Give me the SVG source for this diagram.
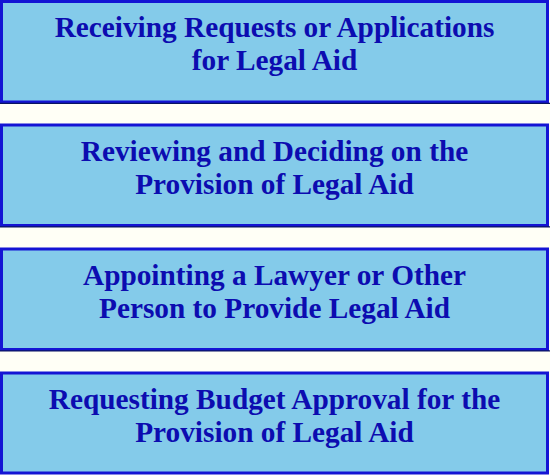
<svg xmlns="http://www.w3.org/2000/svg" width="550" height="475" viewBox="0 0 550 475">
<style>
.box{fill:#84CBEA;stroke:#1414D4;stroke-width:3}
.shadow{fill:none;stroke:#0A1560;stroke-width:1.2}
.t{font-family:"Liberation Serif","Times New Roman",serif;font-weight:bold;font-size:29.3px;fill:#0C0CB0;text-anchor:middle}
</style>
<rect width="550" height="475" fill="#FFFFF6"/>
<g id="connectors"></g>
<g id="node1">
<rect class="box" x="1.5" y="1.5" width="546" height="100.5"/>
<line class="shadow" x1="0" y1="103.4" x2="550" y2="103.4"/>
<text class="t" x="274.5" y="37">Receiving Requests or Applications</text>
<text class="t" x="274.5" y="70">for Legal Aid</text>
</g>
<g id="node2">
<rect class="box" x="1.5" y="125" width="546" height="100.5"/>
<line class="shadow" x1="0" y1="226.9" x2="550" y2="226.9"/>
<text class="t" x="274.5" y="161">Reviewing and Deciding on the</text>
<text class="t" x="274.5" y="194">Provision of Legal Aid</text>
</g>
<g id="node3">
<rect class="box" x="1.5" y="249" width="546" height="100.5"/>
<line class="shadow" x1="0" y1="350.9" x2="550" y2="350.9"/>
<text class="t" x="274.5" y="285">Appointing a Lawyer or Other</text>
<text class="t" x="274.5" y="318">Person to Provide Legal Aid</text>
</g>
<g id="node4">
<rect class="box" x="1.5" y="373" width="546" height="100"/>
<text class="t" x="274.5" y="409">Requesting Budget Approval for the</text>
<text class="t" x="274.5" y="442">Provision of Legal Aid</text>
</g>
</svg>
